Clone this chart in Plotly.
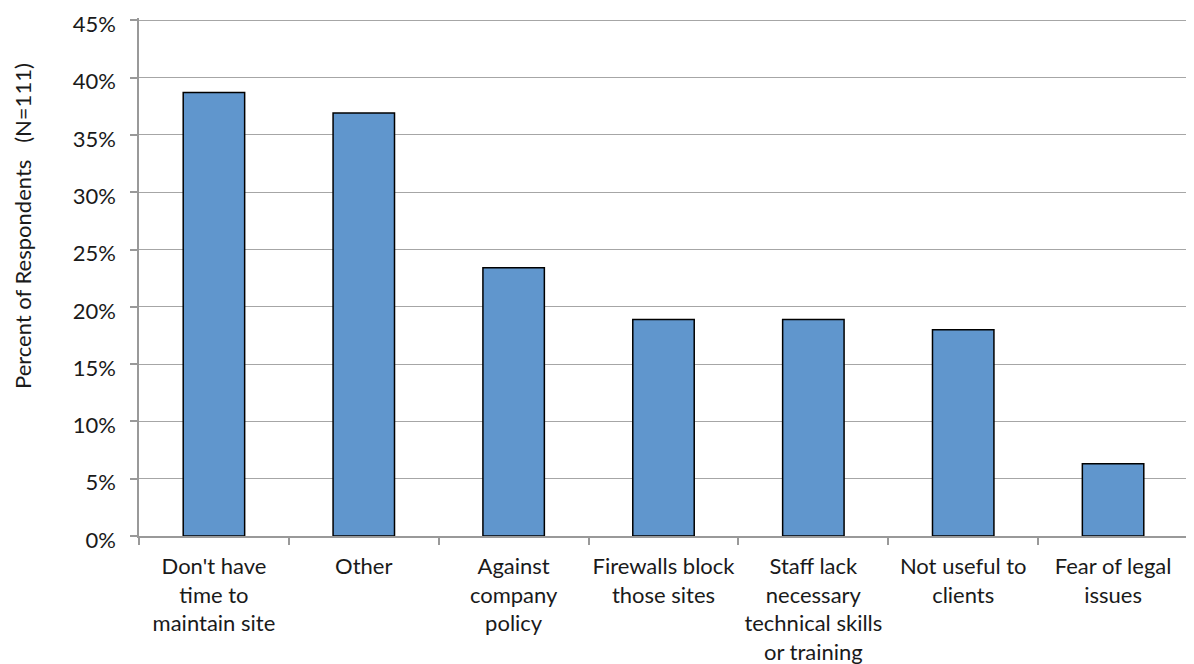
import plotly.graph_objects as go

categories = [
    "Don't have<br>time to<br>maintain site",
    "Other",
    "Against<br>company<br>policy",
    "Firewalls block<br>those sites",
    "Staff lack<br>necessary<br>technical skills<br>or training",
    "Not useful to<br>clients",
    "Fear of legal<br>issues",
]
values = [0.387, 0.369, 0.234, 0.189, 0.189, 0.180, 0.063]
y_ticks = [0, 0.05, 0.10, 0.15, 0.20, 0.25, 0.30, 0.35, 0.40, 0.45]
y_tick_labels = ["0%", "5%", "10%", "15%", "20%", "25%", "30%", "35%", "40%", "45%"]
y_title = "Percent of Respondents\u00a0\u00a0\u00a0(N=111)"

font_family = "Lato, Open Sans, sans-serif"
fs = 22
txt_color = "#1a1a1a"

fig = go.Figure(
    go.Bar(
        x=categories,
        y=values,
        marker=dict(color="#6096CD", line=dict(color="#000000", width=1.5)),
    )
)

fig.update_layout(
    width=1186,
    height=656,
    margin=dict(l=131, r=6, t=10, b=128),
    plot_bgcolor="white",
    paper_bgcolor="white",
    bargap=0.59,
    showlegend=False,
    font=dict(family=font_family, size=fs, color=txt_color),
)

fig.update_xaxes(
    automargin=False,
    tickangle=0,
    showline=True,
    linecolor="#999999",
    linewidth=1.5,
    ticks="outside",
    tickson="boundaries",
    ticklen=7,
    tickcolor="#999999",
    tickwidth=1.5,
    showgrid=False,
    ticklabelstandoff=10,
    tickfont=dict(size=fs, family=font_family, color=txt_color),
)

fig.update_yaxes(
    automargin=False,
    range=[0, 0.452],
    tickvals=y_ticks,
    ticktext=y_tick_labels,
    showline=True,
    linecolor="#999999",
    linewidth=1.5,
    ticks="outside",
    ticklen=7,
    tickcolor="#999999",
    tickwidth=1.5,
    showgrid=True,
    gridcolor="#a6a6a6",
    gridwidth=1.2,
    zeroline=False,
    ticklabelstandoff=10,
    ticklabelshift=4,
    ticklabeloverflow="allow",
    tickfont=dict(size=fs, family=font_family, color=txt_color),
)

fig.add_annotation(
    text=y_title,
    textangle=-90,
    xref="paper",
    yref="paper",
    x=-(139 - 22) / 1049,
    y=(536 - 226) / 518,
    xanchor="center",
    yanchor="middle",
    showarrow=False,
    font=dict(size=22, family=font_family, color=txt_color),
)

fig.write_html("out.html")
